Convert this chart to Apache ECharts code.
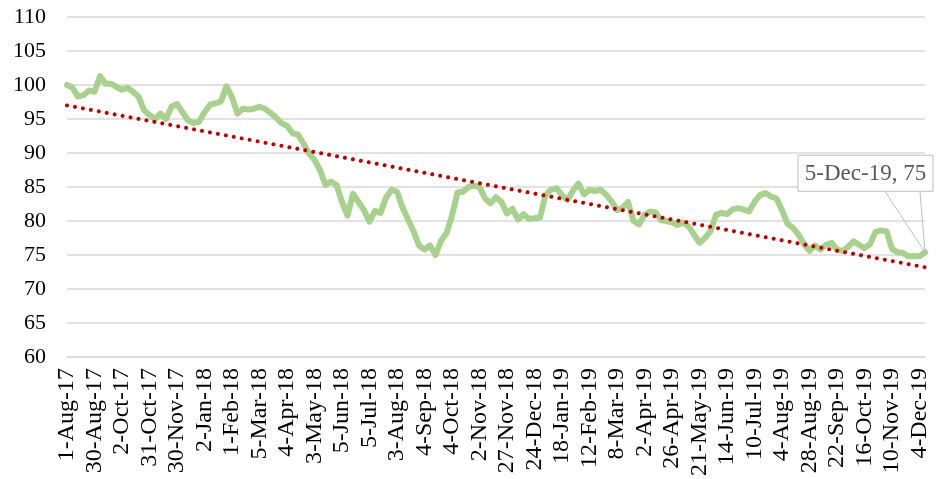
<!DOCTYPE html>
<html>
<head>
<meta charset="utf-8">
<script src="https://cdn.jsdelivr.net/npm/echarts@6/dist/echarts.min.js"></script>
<style>
html,body{margin:0;padding:0;background:#fff;}
#chart{width:941px;height:479px;}
</style>
</head>
<body>
<div id="chart"></div>
<script>
// Tick labels on the category axis (one every 5 sampled points)
var tickLabels = ['1-Aug-17','30-Aug-17','2-Oct-17','31-Oct-17','30-Nov-17','2-Jan-18','1-Feb-18','5-Mar-18','4-Apr-18','3-May-18','5-Jun-18','5-Jul-18','3-Aug-18','4-Sep-18','4-Oct-18','2-Nov-18','27-Nov-18','24-Dec-18','18-Jan-19','12-Feb-19','8-Mar-19','2-Apr-19','26-Apr-19','21-May-19','14-Jun-19','10-Jul-19','4-Aug-19','28-Aug-19','22-Sep-19','16-Oct-19','10-Nov-19','4-Dec-19'];
var lastLabel = '5-Dec-19';
var pointsPerTick = 5;

// Index values
var values = [
100.0,99.6,98.3,98.5,99.2,99.0,101.3,100.2,100.2,99.7,
99.3,99.6,99.0,98.3,96.3,95.6,95.0,95.8,95.0,96.8,
97.2,96.0,94.8,94.4,94.6,96.0,97.1,97.3,97.6,99.8,
98.2,95.8,96.5,96.4,96.5,96.8,96.5,95.9,95.2,94.4,
94.0,92.9,92.7,91.4,89.9,89.0,87.5,85.3,85.8,85.3,
82.8,80.8,84.0,82.8,81.6,79.9,81.5,81.2,83.4,84.6,
84.3,82.0,80.2,78.5,76.4,75.8,76.4,75.0,77.1,78.2,
80.8,84.2,84.3,85.0,85.2,85.0,83.3,82.6,83.5,82.8,
81.1,81.8,80.2,81.0,80.3,80.4,80.5,83.8,84.6,84.8,
83.8,83.1,84.5,85.5,83.9,84.6,84.4,84.6,83.9,82.9,
81.6,81.9,82.8,80.0,79.5,80.9,81.4,81.3,80.1,80.0,
79.8,79.4,79.8,79.2,78.0,76.8,77.5,78.5,80.9,81.2,
81.0,81.7,81.9,81.7,81.4,82.8,83.8,84.1,83.6,83.3,
81.6,79.6,79.0,78.0,76.6,75.6,76.4,75.8,76.5,76.8,
75.8,75.6,76.2,77.0,76.5,76.0,76.6,78.4,78.6,78.5,
75.9,75.4,75.3,74.8,74.8,74.8,75.4
];
// Linear trend end values
var trendStart = 97.0;
var trendEnd = 73.2;

var yMin = 60, yMax = 110, yStep = 5;

// Build categories
var categories = [];
for (var i = 0; i < values.length; i++) categories.push('');
for (var t = 0; t < tickLabels.length; t++) categories[t * pointsPerTick] = tickLabels[t];
categories[values.length - 1] = lastLabel;
var lastIdx = values.length - 1;

var font = 'Liberation Serif, Times New Roman, serif';
var chart = echarts.init(document.getElementById('chart'), null, {renderer: 'canvas'});
chart.setOption({
  animation: false,
  backgroundColor: '#ffffff',
  grid: {left: 67, right: 16, top: 17, bottom: 122},
  xAxis: {
    type: 'category',
    data: categories,
    boundaryGap: false,
    axisLine: {show: true, lineStyle: {color: '#D9D9D9', width: 1.5}},
    axisTick: {show: false},
    axisLabel: {
      interval: pointsPerTick - 1,
      rotate: 90,
      margin: 11,
      fontFamily: font,
      fontSize: 24,
      color: '#000'
    },
    splitLine: {show: false}
  },
  yAxis: {
    type: 'value',
    min: yMin, max: yMax, interval: yStep,
    axisLine: {show: false},
    axisTick: {show: false},
    axisLabel: {margin: 21, fontFamily: font, fontSize: 22, color: '#000'},
    splitLine: {lineStyle: {color: '#D9D9D9', width: 1.5}}
  },
  series: [
    {
      type: 'line',
      data: values,
      showSymbol: false,
      lineStyle: {color: '#A9D18E', width: 6, join: 'round', cap: 'round'},
      z: 2
    },
    {
      type: 'line',
      data: [[0, trendStart], [lastIdx, trendEnd]],
      showSymbol: false,
      lineStyle: {color: '#C00000', width: 4, type: [0.01, 8.07], cap: 'round'},
      z: 3
    },
    {
      // data callout for the last point
      type: 'custom',
      clip: false,
      z: 5,
      data: [[lastIdx, values[lastIdx]]],
      renderItem: function (params, api) {
        var pt = api.coord([api.value(0), api.value(1)]);
        var bx = pt[0] - 127, by = pt[1] - 97, bw = 135, bh = 36;
        var text = categories[api.value(0)] + ', ' + Math.round(api.value(1));
        return {
          type: 'group',
          children: [
            {
              type: 'polyline',
              shape: {points: [[pt[0] - 40, by + bh], [pt[0], pt[1]], [pt[0] - 5, by + bh]]},
              style: {stroke: '#BFBFBF', lineWidth: 1, fill: null}
            },
            {
              type: 'rect',
              shape: {x: bx, y: by, width: bw, height: bh},
              style: {fill: '#ffffff', stroke: '#BFBFBF', lineWidth: 1}
            },
            {
              type: 'text',
              style: {
                x: bx + bw / 2, y: by + bh / 2 + 1,
                text: text,
                align: 'center', verticalAlign: 'middle',
                font: '23px ' + font,
                fill: '#595959'
              }
            }
          ]
        };
      }
    }
  ]
});
</script>
</body>
</html>
